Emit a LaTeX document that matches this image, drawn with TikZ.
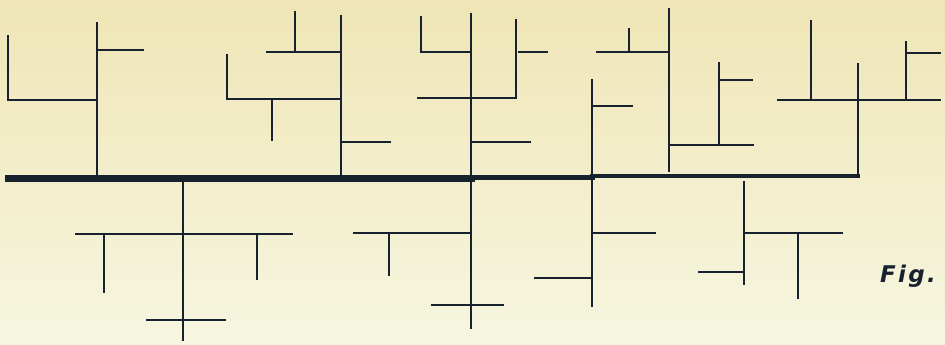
\documentclass[tikz,border=0pt]{standalone}
\usepackage{fontspec}
\newfontfamily\figfont[LetterSpace=10]{DejaVu Sans}
\definecolor{ink}{RGB}{24,34,46}
\definecolor{bgtop}{RGB}{239,229,182}
\definecolor{bgbot}{RGB}{246,246,224}
\begin{document}
\begin{tikzpicture}[x=1pt,y=-1pt,
  wire/.style={draw=ink,line width=2.6pt,line cap=rect,line join=miter},
  mainwire/.style={draw=ink,line cap=rect},
  figlabel/.style={text=ink,font=\figfont\bfseries\itshape\fontsize{23}{23}\selectfont,inner sep=0pt,anchor=base west}]
\useasboundingbox (0,0) rectangle (945,345);
\shade[top color=bgtop,bottom color=bgbot] (0,0) rectangle (945,345);
% main line
\draw[mainwire,line width=7pt] (8,178.5) -- (471,178.5);
\draw[mainwire,line width=5pt] (471,177.5) -- (592,177.5);
\draw[mainwire,line width=3.6pt] (592,176) -- (858,176);
% tree 1
\draw[wire] (97,23) -- (97,176);
\draw[wire] (97,50) -- (143,50);
\draw[wire] (8,36) -- (8,100) -- (97,100);
% tree 2
\draw[wire] (341,16) -- (341,176);
\draw[wire] (267,52) -- (341,52);
\draw[wire] (295,12) -- (295,52);
\draw[wire] (227,55) -- (227,99) -- (341,99);
\draw[wire] (272,99) -- (272,140);
\draw[wire] (341,142) -- (390,142);
% tree 3
\draw[wire] (471,14) -- (471,328);
\draw[wire] (421,17) -- (421,52) -- (471,52);
\draw[wire] (418,98) -- (516,98) -- (516,20);
\draw[wire] (519,52) -- (547,52);
\draw[wire] (471,142) -- (530,142);
% tree 4
\draw[wire] (592,80) -- (592,306);
\draw[wire] (592,106) -- (632,106);
\draw[wire] (669,9) -- (669,171);
\draw[wire] (597,52) -- (669,52);
\draw[wire] (629,29) -- (629,52);
\draw[wire] (669,145) -- (753,145);
\draw[wire] (719,63) -- (719,145);
\draw[wire] (719,80) -- (752,80);
% tree 5
\draw[wire] (858,64) -- (858,176);
\draw[wire] (778,100) -- (940,100);
\draw[wire] (811,21) -- (811,100);
\draw[wire] (906,42) -- (906,100);
\draw[wire] (906,53) -- (940,53);
% lower part
\draw[wire] (183,178) -- (183,340);
\draw[wire] (76,234) -- (292,234);
\draw[wire] (104,234) -- (104,292);
\draw[wire] (257,234) -- (257,279);
\draw[wire] (147,320) -- (225,320);
\draw[wire] (354,233) -- (471,233);
\draw[wire] (389,233) -- (389,275);
\draw[wire] (432,305) -- (503,305);
\draw[wire] (592,233) -- (655,233);
\draw[wire] (535,278) -- (592,278);
\draw[wire] (744,182) -- (744,284);
\draw[wire] (744,233) -- (842,233);
\draw[wire] (798,233) -- (798,298);
\draw[wire] (699,272) -- (744,272);
\node[figlabel] (fig) at (880,282) {Fig.};
\end{tikzpicture}
\end{document}
